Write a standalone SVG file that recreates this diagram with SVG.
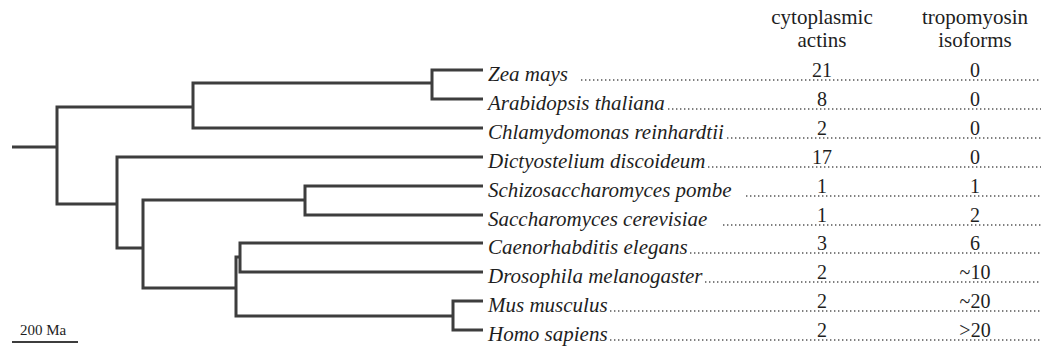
<svg xmlns="http://www.w3.org/2000/svg" width="1041" height="349" viewBox="0 0 1041 349">
<style>
.br{fill:none;stroke:#3d3d3d;stroke-width:3;stroke-linejoin:miter;stroke-linecap:butt}
.lab{font-family:"Liberation Serif","Times New Roman",serif;font-style:italic;font-size:21px;fill:#1e1e1e}
.num{font-family:"Liberation Serif","Times New Roman",serif;font-size:20px;fill:#1e1e1e;text-anchor:middle}
.hd{font-family:"Liberation Serif","Times New Roman",serif;font-size:21px;fill:#1e1e1e;text-anchor:middle}
.dot{fill:none;stroke:#555;stroke-width:1.4;stroke-dasharray:1.4 2.6}
.sc{font-family:"Liberation Serif","Times New Roman",serif;font-size:15px;fill:#1e1e1e}
</style>
<rect width="1041" height="349" fill="#ffffff"/>
<g id="header">
<text class="hd" x="822" y="24">cytoplasmic</text>
<text class="hd" x="822" y="47">actins</text>
<text class="hd" x="975" y="24">tropomyosin</text>
<text class="hd" x="975" y="47">isoforms</text>
</g>
<g id="connectors">
<path class="br" d="M12 147 H57"/>
<path class="br" d="M193 107 H57 V204 H117"/>
<path class="br" d="M432 83 H193 V128 H483"/>
<path class="br" d="M483 70 H432 V99 H483"/>
<path class="br" d="M483 157 H117 V248 H143"/>
<path class="br" d="M305 200 H143 V288 H236"/>
<path class="br" d="M483 186 H305 V215 H483"/>
<path class="br" d="M240 257 H236 V316 H453"/>
<path class="br" d="M483 243 H240 V272 H483"/>
<path class="br" d="M483 301 H453 V330 H483"/>
</g>
<g id="zea">
<text class="lab" x="488" y="81">Zea mays</text>
<line class="dot" x1="581" y1="80" x2="1041" y2="80"/>
<text class="num" x="822" y="77">21</text>
<text class="num" x="975" y="77">0</text>
</g>
<g id="arabidopsis">
<text class="lab" x="488" y="110">Arabidopsis thaliana</text>
<line class="dot" x1="668" y1="109" x2="1041" y2="109"/>
<text class="num" x="822" y="106">8</text>
<text class="num" x="975" y="106">0</text>
</g>
<g id="chlamydomonas">
<text class="lab" x="488" y="139">Chlamydomonas reinhardtii</text>
<line class="dot" x1="727" y1="138" x2="1041" y2="138"/>
<text class="num" x="822" y="135">2</text>
<text class="num" x="975" y="135">0</text>
</g>
<g id="dictyostelium">
<text class="lab" x="488" y="168">Dictyostelium discoideum</text>
<line class="dot" x1="708" y1="167" x2="1041" y2="167"/>
<text class="num" x="822" y="164">17</text>
<text class="num" x="975" y="164">0</text>
</g>
<g id="schizosaccharomyces">
<text class="lab" x="488" y="197">Schizosaccharomyces pombe</text>
<line class="dot" x1="746" y1="196" x2="1041" y2="196"/>
<text class="num" x="822" y="193">1</text>
<text class="num" x="975" y="193">1</text>
</g>
<g id="saccharomyces">
<text class="lab" x="488" y="226">Saccharomyces cerevisiae</text>
<line class="dot" x1="723" y1="225" x2="1041" y2="225"/>
<text class="num" x="822" y="222">1</text>
<text class="num" x="975" y="222">2</text>
</g>
<g id="caenorhabditis">
<text class="lab" x="488" y="254">Caenorhabditis elegans</text>
<line class="dot" x1="690" y1="253" x2="1041" y2="253"/>
<text class="num" x="822" y="250">3</text>
<text class="num" x="975" y="250">6</text>
</g>
<g id="drosophila">
<text class="lab" x="488" y="283">Drosophila melanogaster</text>
<line class="dot" x1="705" y1="282" x2="1041" y2="282"/>
<text class="num" x="822" y="279">2</text>
<text class="num" x="975" y="279">~10</text>
</g>
<g id="mus">
<text class="lab" x="488" y="312">Mus musculus</text>
<line class="dot" x1="610" y1="311" x2="1041" y2="311"/>
<text class="num" x="822" y="308">2</text>
<text class="num" x="975" y="308">~20</text>
</g>
<g id="homo">
<text class="lab" x="488" y="341">Homo sapiens</text>
<line class="dot" x1="610" y1="340" x2="1041" y2="340"/>
<text class="num" x="822" y="337">2</text>
<text class="num" x="975" y="337">&gt;20</text>
</g>
<g id="scale">
<text class="sc" x="20" y="335">200 Ma</text>
<line x1="12" y1="342" x2="78" y2="342" stroke="#3d3d3d" stroke-width="2"/>
</g>
</svg>
